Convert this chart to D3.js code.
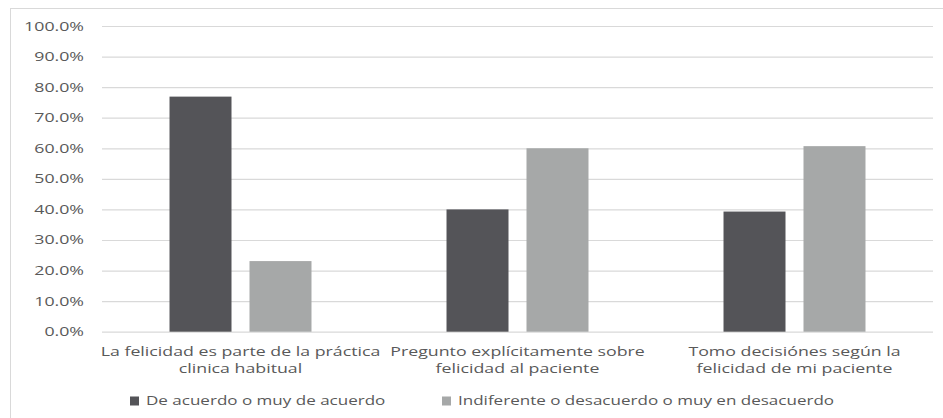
<!DOCTYPE html>
<html>
<head>
<meta charset="utf-8">
<script src="https://cdn.jsdelivr.net/npm/d3@7"></script>
<style>
    body { margin: 0; background: #fff; }
    text { font-family: "Open Sans", sans-serif; fill: #595959; }
</style>
</head>
<body>
<script>
// Data
const categories = [
    ["La felicidad es parte de la práctica", "clinica habitual"],
    ["Pregunto explícitamente sobre", "felicidad al paciente"],
    ["Tomo decisiónes según la", "felicidad de mi paciente"]
];
const seriesNames = ["De acuerdo o muy de acuerdo", "Indiferente o desacuerdo o muy en desacuerdo"];
const agreeValues = [76.9, 40.0, 39.3];
const otherValues = [23.1, 60.0, 60.7];
const yTicks = [0, 10, 20, 30, 40, 50, 60, 70, 80, 90, 100];

const colors = ["#545458", "#a6a8a8"];
const W = 943, H = 418;
const margin = {left: 102, top: 26, right: 10, bottom: 86.3};
const width = W - margin.left - margin.right;
const height = H - margin.top - margin.bottom;
const sx = 1.42; // horizontal stretch of the text in the picture

const data = categories.map((c, i) => ({key: i, label: c, values: [agreeValues[i], otherValues[i]]}));

const svg = d3.select("body").append("svg")
    .attr("width", W)
    .attr("height", H);

// outer frame (cut off at right and bottom)
svg.append("rect")
    .attr("x", 10.5).attr("y", 8.5)
    .attr("width", 1000).attr("height", 600)
    .attr("fill", "none")
    .attr("stroke", "#d9d9d9");

const g = svg.append("g")
    .attr("transform", `translate(${margin.left}, ${margin.top})`);

// Scales
const y = d3.scaleLinear().domain([0, 100]).range([height, 0]);
const x0 = d3.scaleBand().domain(data.map(d => d.key)).range([0, width]);
const x1 = d3.scaleBand().domain([0, 1]).range([0, x0.bandwidth()])
    .paddingInner(0.225).paddingOuter(0.844);

// Grid + y labels
const yAxis = g.append("g")
    .attr("class", "left axis")
    .call(d3.axisLeft(y).tickValues(yTicks).tickSize(-width).tickFormat(d => d.toFixed(1) + "%"));
yAxis.select(".domain").remove();
yAxis.selectAll("line").attr("stroke", "#d9d9d9").attr("stroke-width", 1.2);
yAxis.selectAll("text")
    .attr("x", -18 / sx)
    .attr("transform", `scale(${sx},1)`)
    .attr("font-size", "12.5px")
    .style("fill", "#595959");

// Bars
const groups = g.selectAll(".cat").data(data).enter().append("g")
    .attr("class", "cat")
    .attr("transform", d => `translate(${x0(d.key)},0)`);

groups.selectAll("rect").data(d => d.values).enter().append("rect")
    .attr("x", (d, i) => x1(i))
    .attr("y", d => y(d))
    .attr("width", x1.bandwidth())
    .attr("height", d => height - y(d))
    .attr("fill", (d, i) => colors[i]);

// Category labels
data.forEach(d => {
    const cx = x0(d.key) + x0.bandwidth() / 2;
    const t = g.append("text")
        .attr("transform", `translate(${cx},${height}) scale(${sx},1)`)
        .attr("text-anchor", "middle")
        .attr("font-size", "12.5px");
    d.label.forEach((line, j) => {
        t.append("tspan").attr("x", 0).attr("y", 24.5 + j * 16.5).text(line);
    });
});

// Legend
const legendX = [130, 442];
const legend = svg.selectAll(".legend").data(seriesNames).enter().append("g")
    .attr("class", "legend")
    .attr("transform", (d, i) => `translate(${legendX[i]},396.5)`);
legend.append("rect")
    .attr("width", 9).attr("height", 9)
    .attr("fill", (d, i) => colors[i]);
legend.append("text")
    .attr("transform", `translate(16,8.5) scale(${sx},1)`)
    .attr("font-size", "12px")
    .text(d => d);
</script>
</body>
</html>
